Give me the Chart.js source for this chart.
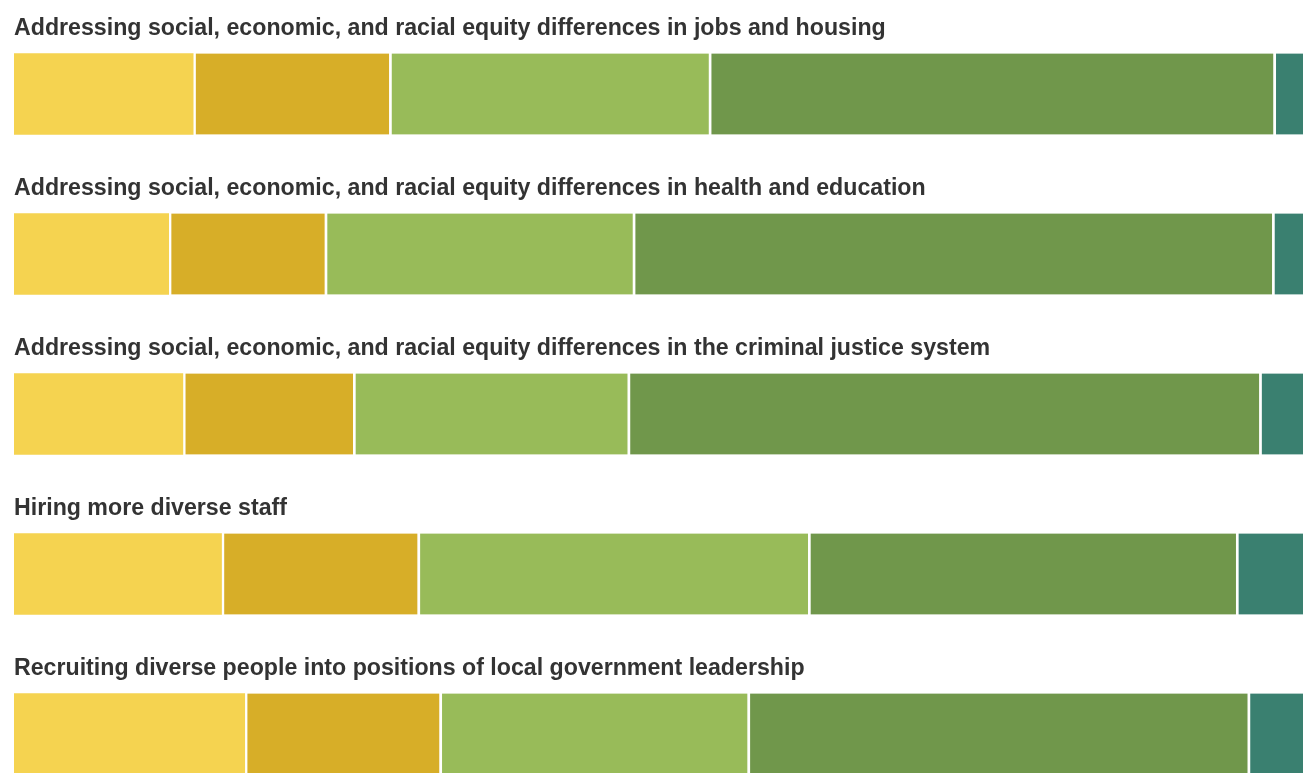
<!doctype html>
<html lang="en">

<head>
    <meta charset="utf-8">
    <title>Equity priorities</title>
    <script src="https://cdn.jsdelivr.net/npm/chart.js@4.4.1/dist/chart.umd.min.js"></script>
    <style>
        html, body { margin: 0; padding: 0; background: #fff; overflow: hidden; }
        #wrap { width: 1303px; height: 773px; overflow: hidden; }
    </style>
</head>

<body>
    <div id="wrap">
        <canvas id="myChart" width="1303" height="820"></canvas>
    </div>

    <script>
        // survey items (one bar each)
        var categories = [
            'Addressing social, economic, and racial equity differences in jobs and housing',
            'Addressing social, economic, and racial equity differences in health and education',
            'Addressing social, economic, and racial equity differences in the criminal justice system',
            'Hiring more diverse staff',
            'Recruiting diverse people into positions of local government leadership'
        ];

        // share of responses (%)
        var notPriority = [13.9, 12.0, 13.1, 16.1, 17.9];
        var lowPriority = [15.2, 12.1, 13.2, 15.2, 15.1];
        var medPriority = [24.8, 23.9, 21.3, 30.3, 23.9];
        var highPriority = [43.8, 49.6, 49.0, 33.2, 38.8];
        var topPriority = [2.3, 2.4, 3.4, 5.2, 4.3];

        var colors = ['#f5d350', '#d7ae28', '#98bb59', '#70974b', '#3a8070'];

        function ds(label, data, i) {
            return {
                label: label,
                data: data,
                backgroundColor: colors[i],
                borderColor: '#ffffff',
                borderWidth: i === 0 ? 0 : { left: 3, right: 0, top: 0, bottom: 0 },
                borderSkipped: false,
                barThickness: 81
            };
        }

        // titles above each bar
        var titlePlugin = {
            id: 'rowTitles',
            afterDatasetsDraw: function (chart) {
                var c = chart.ctx;
                var y = chart.scales.y;
                c.save();
                var fam = '"Liberation Sans", Arial, sans-serif';
                c.font = 'bold 20px ' + fam;
                // size so the first title spans like the original (~872px)
                var size = 20 * 872 / c.measureText(categories[0]).width;
                c.font = 'bold ' + size.toFixed(2) + 'px ' + fam;
                c.fillStyle = '#333333';
                c.textAlign = 'left';
                c.textBaseline = 'alphabetic';
                categories.forEach(function (t, i) {
                    var cy = y.getPixelForValue(i);
                    c.fillText(t, 14, cy - 40.5 - 19);
                });
                c.restore();
            }
        };

        var ctx = document.getElementById('myChart');
        var chart = new Chart(ctx, {
            type: 'bar',
            data: {
                labels: categories,
                datasets: [
                    ds('Not a priority', notPriority, 0),
                    ds('Low priority', lowPriority, 1),
                    ds('Medium priority', medPriority, 2),
                    ds('High priority', highPriority, 3),
                    ds('Top priority', topPriority, 4)
                ]
            },
            options: {
                indexAxis: 'y',
                responsive: false,
                animation: false,
                layout: { padding: { left: 14, right: 0, top: 14, bottom: 6 } },
                plugins: {
                    legend: { display: false },
                    tooltip: { enabled: false }
                },
                scales: {
                    x: { stacked: true, min: 0, max: 100, display: false },
                    y: { stacked: true, display: false, offset: true }
                }
            },
            plugins: [titlePlugin]
        });
    </script>
</body>

</html>
